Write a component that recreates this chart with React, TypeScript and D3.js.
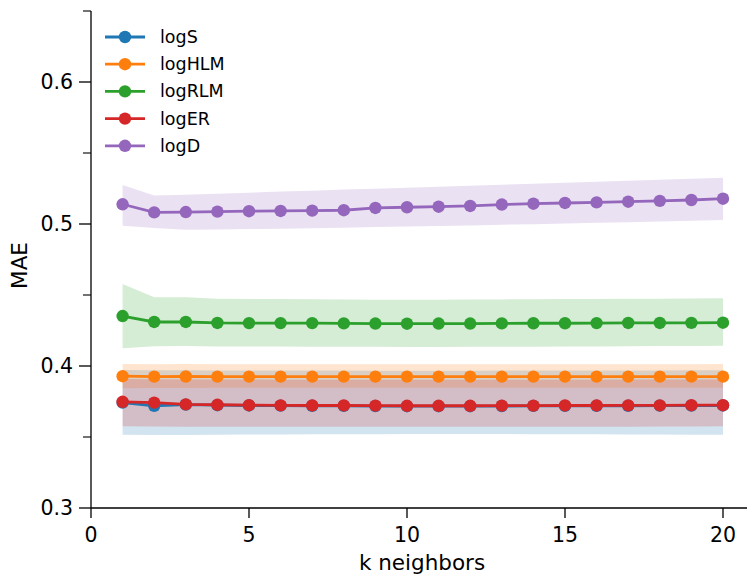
import React from "react";
import * as d3 from "d3";

// k values on the x axis
const kValues = [1, 2, 3, 4, 5, 6, 7, 8, 9, 10, 11, 12, 13, 14, 15, 16, 17, 18, 19, 20];

const seriesNames = ["logS", "logHLM", "logRLM", "logER", "logD"];
const seriesColors = ["#1f77b4", "#ff7f0e", "#2ca02c", "#d62728", "#9467bd"];

// mean MAE per k
const logSMean = [0.3742, 0.372, 0.3728, 0.3724, 0.3722, 0.3721, 0.372, 0.3719, 0.3718, 0.3717, 0.3717, 0.3717, 0.3718, 0.3719, 0.3719, 0.372, 0.372, 0.3721, 0.3721, 0.3722];
const logHLMMean = [0.3928, 0.3925, 0.3926, 0.3925, 0.3925, 0.3925, 0.3925, 0.3925, 0.3925, 0.3925, 0.3925, 0.3925, 0.3925, 0.3925, 0.3925, 0.3925, 0.3925, 0.3925, 0.3925, 0.3925];
const logRLMMean = [0.4352, 0.431, 0.431, 0.4303, 0.4302, 0.4302, 0.4302, 0.43, 0.4299, 0.4298, 0.4299, 0.4299, 0.43, 0.4301, 0.4301, 0.4302, 0.4303, 0.4303, 0.4304, 0.4305];
const logERMean = [0.3748, 0.3742, 0.373, 0.3727, 0.3724, 0.3723, 0.3722, 0.3722, 0.3721, 0.372, 0.372, 0.372, 0.3721, 0.3721, 0.3722, 0.3722, 0.3723, 0.3723, 0.3724, 0.3724];
const logDMean = [0.5139, 0.5082, 0.5084, 0.5087, 0.509, 0.5092, 0.5094, 0.5097, 0.5113, 0.5118, 0.5122, 0.5127, 0.5137, 0.5143, 0.5148, 0.5152, 0.5157, 0.5163, 0.5169, 0.5178];

// band upper / lower
const logSUpper = [0.3972, 0.397, 0.397, 0.3969, 0.3969, 0.3968, 0.3968, 0.3968, 0.3967, 0.3967, 0.3967, 0.3967, 0.3968, 0.3968, 0.3968, 0.3969, 0.3969, 0.3969, 0.397, 0.397];
const logSLower = [0.3515, 0.3514, 0.3514, 0.3516, 0.3517, 0.3518, 0.3519, 0.352, 0.352, 0.3521, 0.3521, 0.3521, 0.3521, 0.352, 0.352, 0.3519, 0.3518, 0.3517, 0.3516, 0.3515];
const logHLMUpper = [0.4014, 0.4013, 0.4014, 0.4013, 0.4013, 0.4013, 0.4013, 0.4013, 0.4013, 0.4013, 0.4013, 0.4013, 0.4013, 0.4013, 0.4013, 0.4013, 0.4013, 0.4013, 0.4013, 0.4014];
const logHLMLower = [0.3843, 0.3845, 0.3845, 0.3846, 0.3846, 0.3846, 0.3846, 0.3846, 0.3846, 0.3846, 0.3846, 0.3846, 0.3846, 0.3846, 0.3846, 0.3846, 0.3846, 0.3846, 0.3846, 0.3846];
const logRLMUpper = [0.4577, 0.4484, 0.4484, 0.4474, 0.4472, 0.4471, 0.447, 0.4468, 0.4467, 0.4466, 0.4467, 0.4468, 0.4469, 0.447, 0.4471, 0.4472, 0.4473, 0.4474, 0.4476, 0.4477];
const logRLMLower = [0.4125, 0.4139, 0.414, 0.4138, 0.4137, 0.4137, 0.4136, 0.4135, 0.4135, 0.4134, 0.4134, 0.4135, 0.4135, 0.4136, 0.4137, 0.4138, 0.4139, 0.414, 0.4141, 0.4142];
const logERUpper = [0.3908, 0.3906, 0.3905, 0.3905, 0.3905, 0.3904, 0.3904, 0.3904, 0.3904, 0.3904, 0.3904, 0.3904, 0.3904, 0.3904, 0.3904, 0.3904, 0.3905, 0.3905, 0.3905, 0.3905];
const logERLower = [0.3575, 0.3574, 0.3573, 0.3573, 0.3573, 0.3572, 0.3572, 0.3572, 0.3572, 0.3572, 0.3572, 0.3572, 0.3572, 0.3572, 0.3573, 0.3573, 0.3573, 0.3574, 0.3574, 0.3575];
const logDUpper = [0.5275, 0.52, 0.5206, 0.5213, 0.522, 0.5228, 0.5235, 0.5243, 0.5249, 0.5256, 0.5263, 0.527, 0.5277, 0.5284, 0.5291, 0.5298, 0.5305, 0.5312, 0.5319, 0.5326];
const logDLower = [0.4988, 0.4972, 0.496, 0.4962, 0.4965, 0.4967, 0.497, 0.4973, 0.4978, 0.4982, 0.4986, 0.499, 0.4995, 0.4999, 0.5003, 0.5008, 0.5013, 0.5018, 0.5023, 0.5028];

const means = [logSMean, logHLMMean, logRLMMean, logERMean, logDMean];
const uppers = [logSUpper, logHLMUpper, logRLMUpper, logERUpper, logDUpper];
const lowers = [logSLower, logHLMLower, logRLMLower, logERLower, logDLower];

const xTicks = [0, 5, 10, 15, 20];
const yMajor = [0.3, 0.4, 0.5, 0.6];
const yMinor = [0.35, 0.45, 0.55, 0.65];

const W = 747;
const H = 574;
const FONT = "'DejaVu Sans', sans-serif";

export default function App() {
  const x = d3.scaleLinear().domain([0, 21]).range([91, 91 + 21 * 31.6]);
  const y = d3.scaleLinear().domain([0.3, 0.65]).range([508, 11]);

  const area = d3
    .area<number>()
    .x((_, i) => x(kValues[i]));
  const line = d3
    .line<number>()
    .x((_, i) => x(kValues[i]))
    .y((d) => y(d));

  return (
    <svg
      width={W}
      height={H}
      style={{ position: "fixed", left: 0, top: 0, background: "#fff" }}
      fontFamily={FONT}
    >
      {/* bands */}
      {seriesNames.map((name, s) => (
        <path
          key={"band" + name}
          d={
            area
              .y0((_, i) => y(lowers[s][i]))
              .y1((_, i) => y(uppers[s][i]))(means[s]) || ""
          }
          fill={seriesColors[s]}
          fillOpacity={0.2}
        />
      ))}
      {/* lines and markers */}
      {seriesNames.map((name, s) => (
        <g key={"line" + name}>
          <path d={line(means[s]) || ""} fill="none" stroke={seriesColors[s]} strokeWidth={2.8} />
          {means[s].map((v, i) => (
            <circle key={i} cx={x(kValues[i])} cy={y(v)} r={6.2} fill={seriesColors[s]} />
          ))}
        </g>
      ))}

      {/* axes */}
      <line x1={x(0)} x2={W} y1={y(0.3)} y2={y(0.3)} stroke="#000" strokeWidth={1.3} />
      <line x1={x(0)} x2={x(0)} y1={y(0.65)} y2={y(0.3)} stroke="#000" strokeWidth={1.3} />
      {xTicks.map((t) => (
        <g key={"xt" + t}>
          <line x1={x(t)} x2={x(t)} y1={y(0.3)} y2={y(0.3) + 10} stroke="#000" strokeWidth={1.3} />
          <text x={x(t)} y={541.5} textAnchor="middle" fontSize={20.5} fill="#000">
            {t}
          </text>
        </g>
      ))}
      {yMajor.map((t) => (
        <g key={"yt" + t}>
          <line x1={x(0) - 12} x2={x(0)} y1={y(t)} y2={y(t)} stroke="#000" strokeWidth={1.3} />
          <text
            x={x(0) - 18}
            y={y(t)}
            textAnchor="end"
            dominantBaseline="central"
            fontSize={20.5}
            fill="#000"
          >
            {d3.format(".1f")(t)}
          </text>
        </g>
      ))}
      {yMinor.map((t) => (
        <line key={"ym" + t} x1={x(0) - 8} x2={x(0)} y1={y(t)} y2={y(t)} stroke="#000" strokeWidth={1.1} />
      ))}
      <text x={422} y={570} textAnchor="middle" fontSize={21.5} fill="#000">
        k neighbors
      </text>
      <text
        transform={`translate(27,${(y(0.3) + y(0.65)) / 2 + 6}) rotate(-90)`}
        textAnchor="middle"
        fontSize={21.5}
        fill="#000"
      >
        MAE
      </text>

      {/* legend */}
      {seriesNames.map((name, s) => {
        const ly = 37 + s * 27.2;
        return (
          <g key={"lg" + name}>
            <line x1={105} x2={145} y1={ly} y2={ly} stroke={seriesColors[s]} strokeWidth={2.8} />
            <circle cx={125} cy={ly} r={6.2} fill={seriesColors[s]} />
            <text x={160} y={ly} dominantBaseline="central" fontSize={17.5} fill="#000">
              {name}
            </text>
          </g>
        );
      })}
    </svg>
  );
}
